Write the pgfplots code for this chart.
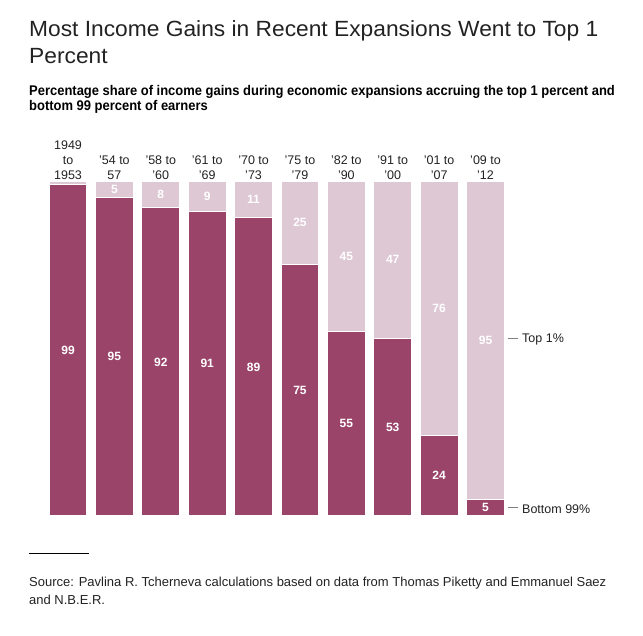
\documentclass[border=0pt]{standalone}
\usepackage{pgfplots}
\pgfplotsset{compat=1.18}
\usepackage{pgfplotstable}
\usepackage{fontspec}
\setmainfont{Liberation Sans}
\newfontfamily\titlefont[FakeStretch=1.035]{Liberation Sans}
\newfontfamily\subfont[FakeStretch=0.926]{Liberation Sans}
\newfontfamily\srcfont{Liberation Sans}
\definecolor{botc}{RGB}{155,68,105}
\definecolor{topc}{RGB}{222,200,211}
\definecolor{txt}{RGB}{34,34,34}

\pgfplotstableread{
x b t
0 99 1
1 95 5
2 92 8
3 91 9
4 89 11
5 75 25
6 55 45
7 53 47
8 24 76
9 5 95
}\data

\begin{document}
\begin{tikzpicture}[x=1pt,y=1pt]
\path (0,0) rectangle (643,636);
% title
\node[anchor=base west, inner sep=0pt, text=txt, font=\titlefont\fontsize{22}{27}\selectfont] at (29,636-37) {Most Income Gains in Recent Expansions Went to Top 1};
\node[anchor=base west, inner sep=0pt, text=txt, font=\titlefont\fontsize{22}{27}\selectfont] at (29,636-64) {Percent};
% subtitle
\node[anchor=base west, inner sep=0pt, text=black, font=\subfont\bfseries\fontsize{14}{15}\selectfont] at (29,636-96) {Percentage share of income gains during economic expansions accruing the top 1 percent and};
\node[anchor=base west, inner sep=0pt, text=black, font=\subfont\bfseries\fontsize{14}{15}\selectfont] at (29,636-111) {bottom 99 percent of earners};

\begin{axis}[at={(49pt,120pt)}, anchor=south west, scale only axis,
  width=456pt, height=335pt,
  xmin=-0.41, xmax=9.42, ymin=0, ymax=100,
  ybar stacked, bar width=38pt,
  axis line style={draw=none}, major tick length=0pt,
  ytick=\empty,
  xtick={0,...,9},
  xticklabel pos=upper,
  xticklabels={{1949\\to\\1953},{’54 to\\57},{’58 to\\’60},{’61 to\\’69},{’70 to\\’73},{’75 to\\’79},{’82 to\\’90},{’91 to\\’00},{’01 to\\’07},{’09 to\\’12}},
  xticklabel style={align=center, font=\fontsize{12.5}{15}\selectfont, text=txt, inner sep=1pt},
  clip=false]
\addplot[fill=botc, draw=white, line width=1.2pt] table[x=x, y=b] {\data};
\addplot[fill=topc, draw=white, line width=1.2pt] table[x=x, y=t] {\data};
\end{axis}

\begin{axis}[at={(49pt,120pt)}, anchor=south west, scale only axis,
  width=456pt, height=335pt,
  xmin=-0.41, xmax=9.42, ymin=0, ymax=100, hide axis, clip=false,
  /pgf/number format/assume math mode=true,
  every node near coord/.append style={anchor=center, text=white, font=\bfseries\fontsize{12}{14}\selectfont}]
\addplot[draw=none, mark=none, nodes near coords, point meta=explicit] table[x=x, y expr=\thisrow{b}/2, meta=b] {\data};
\addplot[draw=none, mark=none, nodes near coords, point meta=explicit, skip coords between index={0}{1}] table[x=x, y expr=\thisrow{b}+\thisrow{t}/2, meta=t] {\data};
\end{axis}

% annotations
\draw[gray, line width=1pt] (508,636-339) -- (518,636-339);
\node[anchor=west, inner sep=0pt, text=txt, font=\fontsize{12.5}{15}\selectfont] at (522,636-339) {Top 1\%};
\draw[gray, line width=1pt] (508,636-508) -- (518,636-508);
\node[anchor=west, inner sep=0pt, text=txt, font=\fontsize{12.5}{15}\selectfont] at (522,636-509) {Bottom 99\%};

% source
\draw[black, line width=0.8pt] (29,636-553) -- (89,636-553);
\node[anchor=base west, inner sep=0pt, text=txt, font=\srcfont\fontsize{13}{15}\selectfont] at (29,636-587) {Source: Pavlina R. Tcherneva calculations based on data from Thomas Piketty and Emmanuel Saez};
\node[anchor=base west, inner sep=0pt, text=txt, font=\srcfont\fontsize{13}{15}\selectfont] at (29,636-605) {and N.B.E.R.};
\end{tikzpicture}
\end{document}
